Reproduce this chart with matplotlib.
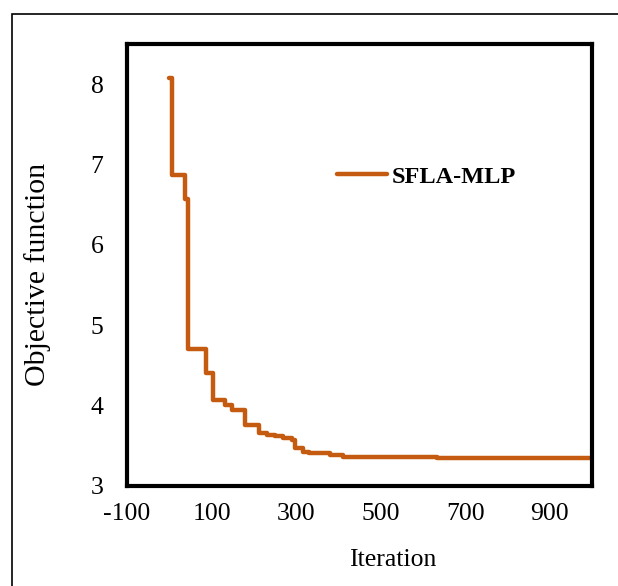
import matplotlib.pyplot as plt
from matplotlib.patches import Rectangle

# Step points of the best objective value per iteration
iterations = [0, 6, 37, 44, 87, 103, 132, 148, 179, 212, 230, 250, 270, 290,
              297, 316, 330, 380, 411, 446, 633, 799, 1000]
objective = [8.08, 6.87, 6.57, 4.71, 4.40, 4.07, 4.01, 3.95, 3.76, 3.66,
             3.64, 3.62, 3.60, 3.57, 3.47, 3.42, 3.41, 3.39, 3.365, 3.357,
             3.353, 3.345, 3.345]
series_name = "SFLA-MLP"
x_ticks = [-100, 100, 300, 500, 700, 900]
y_ticks = [3, 4, 5, 6, 7, 8]

plt.rcParams["font.family"] = ["Liberation Serif", "DejaVu Serif"]
plt.rcParams["axes.unicode_minus"] = False

fig = plt.figure(figsize=(6.18, 5.86), dpi=100)
ax = fig.add_axes([127 / 618, 1 - 486 / 586, 465 / 618, 442 / 586])

ax.plot(iterations, objective, drawstyle="steps-post", color="#C55A11",
        linewidth=3.2, solid_capstyle="round", label=series_name)

ax.set_xlim(-100, 1000)
ax.set_ylim(3, 8.5)
ax.set_xticks(x_ticks)
ax.set_yticks(y_ticks)
ax.tick_params(length=0, labelsize=18.5)
ax.tick_params(axis="x", pad=12)
ax.tick_params(axis="y", pad=17)
for s in ax.spines.values():
    s.set_linewidth(3)
    s.set_color("black")

# axis titles
fig.text(393 / 618, 1 - 560 / 586, "Iteration", fontsize=18.5,
         ha="center", va="center")
fig.text(38 / 618, 1 - 274 / 586, "Objective function", fontsize=21.5,
         rotation=90, ha="center", va="center")

ax.legend(loc="center left", bbox_to_anchor=(0.405, 0.70), frameon=False,
          handlelength=2.05, handletextpad=0.2,
          prop={"size": 17.5, "weight": "bold"})

# thin outer border of the chart area
fig.patches.append(Rectangle((12 / 618, -0.1), 1.2, 1 - 14 / 586 + 0.1,
                             transform=fig.transFigure, fill=False,
                             edgecolor="black", linewidth=1.2))

fig.savefig("out.png", dpi=100)
